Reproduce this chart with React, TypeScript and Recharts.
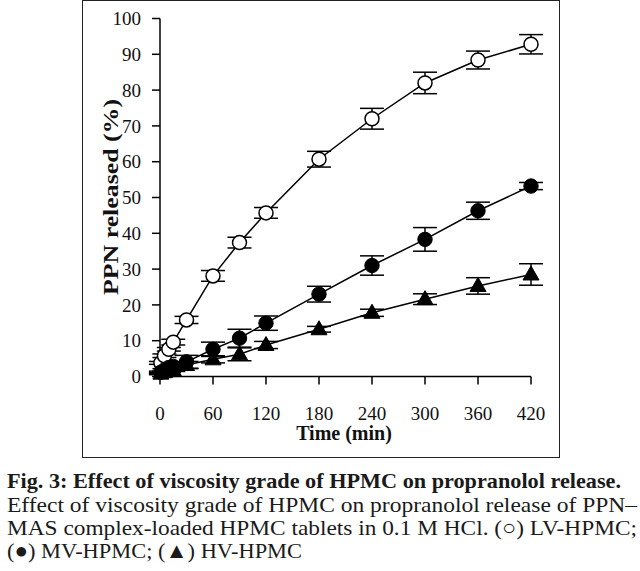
import React from "react";
import { LineChart, Line, XAxis, YAxis, ErrorBar } from "recharts";

const times = [1, 5, 10, 15, 30, 60, 90, 120, 180, 240, 300, 360, 420];
const lvValues = [3.8, 5.8, 7.6, 9.6, 15.8, 28.1, 37.4, 45.7, 60.7, 72.0, 82.0, 88.4, 92.8];
const lvErrors = [0.4, 0.5, 0.5, 0.8, 1.0, 1.5, 1.5, 1.5, 2.2, 2.9, 3.0, 2.5, 2.7];
const mvValues = [1.2, 1.8, 2.5, 2.8, 4.1, 7.6, 10.7, 14.9, 23.0, 31.0, 38.3, 46.3, 53.2];
const mvErrors = [0.3, 0.4, 0.5, 0.6, 1.8, 2.0, 2.5, 2.0, 2.2, 2.7, 3.3, 2.4, 1.0];
const hvValues = [0.8, 1.2, 1.5, 1.8, 3.2, 4.8, 6.2, 8.8, 13.2, 17.8, 21.6, 25.3, 28.5];
const hvErrors = [0.3, 0.3, 0.3, 0.4, 1.0, 1.0, 1.8, 1.0, 0.8, 1.0, 1.5, 2.3, 3.0];

const xTicks = [0, 60, 120, 180, 240, 300, 360, 420];
const yTicks = [0, 10, 20, 30, 40, 50, 60, 70, 80, 90, 100];

const xLabel = "Time (min)";
const yLabel = "PPN released (%)";
const captionLines = [
  "Fig. 3: Effect of viscosity grade of HPMC on propranolol release.",
  "Effect of viscosity grade of HPMC on propranolol release of PPN\u2013",
  "MAS complex-loaded HPMC tablets in 0.1 M HCl. (\u25CB) LV-HPMC;",
  "(\u25CF) MV-HPMC; (\u25B2) HV-HPMC",
];

const data = times.map((t, i) => ({
  t,
  lv: lvValues[i],
  lvErr: lvErrors[i],
  mv: mvValues[i],
  mvErr: mvErrors[i],
  hv: hvValues[i],
  hvErr: hvErrors[i],
}));

const FONT = '"Liberation Serif", Tinos, "Times New Roman", Times, serif';

const OpenDot = (props: any) => {
  const { cx, cy, index } = props;
  return <circle key={`o${index}`} cx={cx} cy={cy} r={7} fill="#fff" stroke="#000" strokeWidth={1.5} />;
};
const FilledDot = (props: any) => {
  const { cx, cy, index } = props;
  return <circle key={`f${index}`} cx={cx} cy={cy} r={7.2} fill="#000" stroke="#000" strokeWidth={1} />;
};
const TriDot = (props: any) => {
  const { cx, cy, index } = props;
  const pts = `${cx},${cy - 8.5} ${cx - 8},${cy + 5.5} ${cx + 8},${cy + 5.5}`;
  return <polygon key={`t${index}`} points={pts} fill="#000" stroke="#000" strokeWidth={1} />;
};

export default function App() {
  return (
    <div style={{ position: "absolute", left: 0, top: 0, width: 640, height: 571, background: "#fff", overflow: "hidden", fontFamily: FONT }}>
      <div
        style={{
          position: "absolute",
          left: 82,
          top: 0,
          width: 478,
          height: 458,
          border: "1.5px solid #222",
          boxSizing: "border-box",
        }}
      />
      <div style={{ position: "absolute", left: 0, top: 0 }}>
        <LineChart
          width={640}
          height={460}
          data={data}
          margin={{ top: 18.5, right: 109, left: 100, bottom: 43.5 }}
          style={{ fontFamily: FONT }}
        >
          <XAxis
            dataKey="t"
            type="number"
            domain={[0, 420]}
            ticks={xTicks}
            height={40}
            tickSize={8}
            tickMargin={22}
            axisLine={{ stroke: "#000", strokeWidth: 1.5 }}
            tickLine={{ stroke: "#000", strokeWidth: 1.5 }}
            tick={{ fill: "#111", fontSize: 19, fontFamily: FONT }}
            interval={0}
          />
          <YAxis
            type="number"
            domain={[0, 100]}
            ticks={yTicks}
            width={60}
            tickSize={8}
            tickMargin={11}
            axisLine={{ stroke: "#000", strokeWidth: 1.5 }}
            tickLine={{ stroke: "#000", strokeWidth: 1.5 }}
            tick={{ fill: "#111", fontSize: 19, fontFamily: FONT }}
            interval={0}
          />
          <Line
            dataKey="lv"
            type="linear"
            stroke="#000"
            strokeWidth={1.5}
            isAnimationActive={false}
            dot={OpenDot}
            activeDot={false}
          >
            <ErrorBar dataKey="lvErr" width={12} stroke="#000" strokeWidth={1.5} direction="y" />
          </Line>
          <Line
            dataKey="mv"
            type="linear"
            stroke="#000"
            strokeWidth={1.5}
            isAnimationActive={false}
            dot={FilledDot}
            activeDot={false}
          >
            <ErrorBar dataKey="mvErr" width={12} stroke="#000" strokeWidth={1.5} direction="y" />
          </Line>
          <Line
            dataKey="hv"
            type="linear"
            stroke="#000"
            strokeWidth={1.5}
            isAnimationActive={false}
            dot={TriDot}
            activeDot={false}
          >
            <ErrorBar dataKey="hvErr" width={12} stroke="#000" strokeWidth={1.5} direction="y" />
          </Line>
        </LineChart>
      </div>
      <svg width={640} height={571} style={{ position: "absolute", left: 0, top: 0, pointerEvents: "none", fontFamily: FONT }}>
        <text
          x={344}
          y={440}
          textAnchor="middle"
          fontFamily={FONT}
          fontWeight="bold"
          fontSize={20}
          fill="#111"
        >
          {xLabel}
        </text>
        <text
          transform="translate(118,197) rotate(-90)"
          x={0}
          y={0}
          textAnchor="middle"
          fontFamily={FONT}
          fontWeight="bold"
          fontSize={20}
          fill="#111"
          textLength={196}
          lengthAdjust="spacingAndGlyphs"
        >
          {yLabel}
        </text>
        <text x={7} y={488} fontFamily={FONT} fontWeight="bold" fontSize={21} fill="#1a1a1a" textLength={614} lengthAdjust="spacingAndGlyphs">
          {captionLines[0]}
        </text>
        <text x={7} y={512} fontFamily={FONT} fontSize={22} fill="#1a1a1a" textLength={630} lengthAdjust="spacingAndGlyphs">
          {captionLines[1]}
        </text>
        <text x={7} y={535} fontFamily={FONT} fontSize={22} fill="#1a1a1a" textLength={630} lengthAdjust="spacingAndGlyphs">
          {captionLines[2]}
        </text>
        <text x={7} y={558} fontFamily={FONT} fontSize={22} fill="#1a1a1a" textLength={295} lengthAdjust="spacingAndGlyphs">
          {captionLines[3]}
        </text>
      </svg>
    </div>
  );
}
